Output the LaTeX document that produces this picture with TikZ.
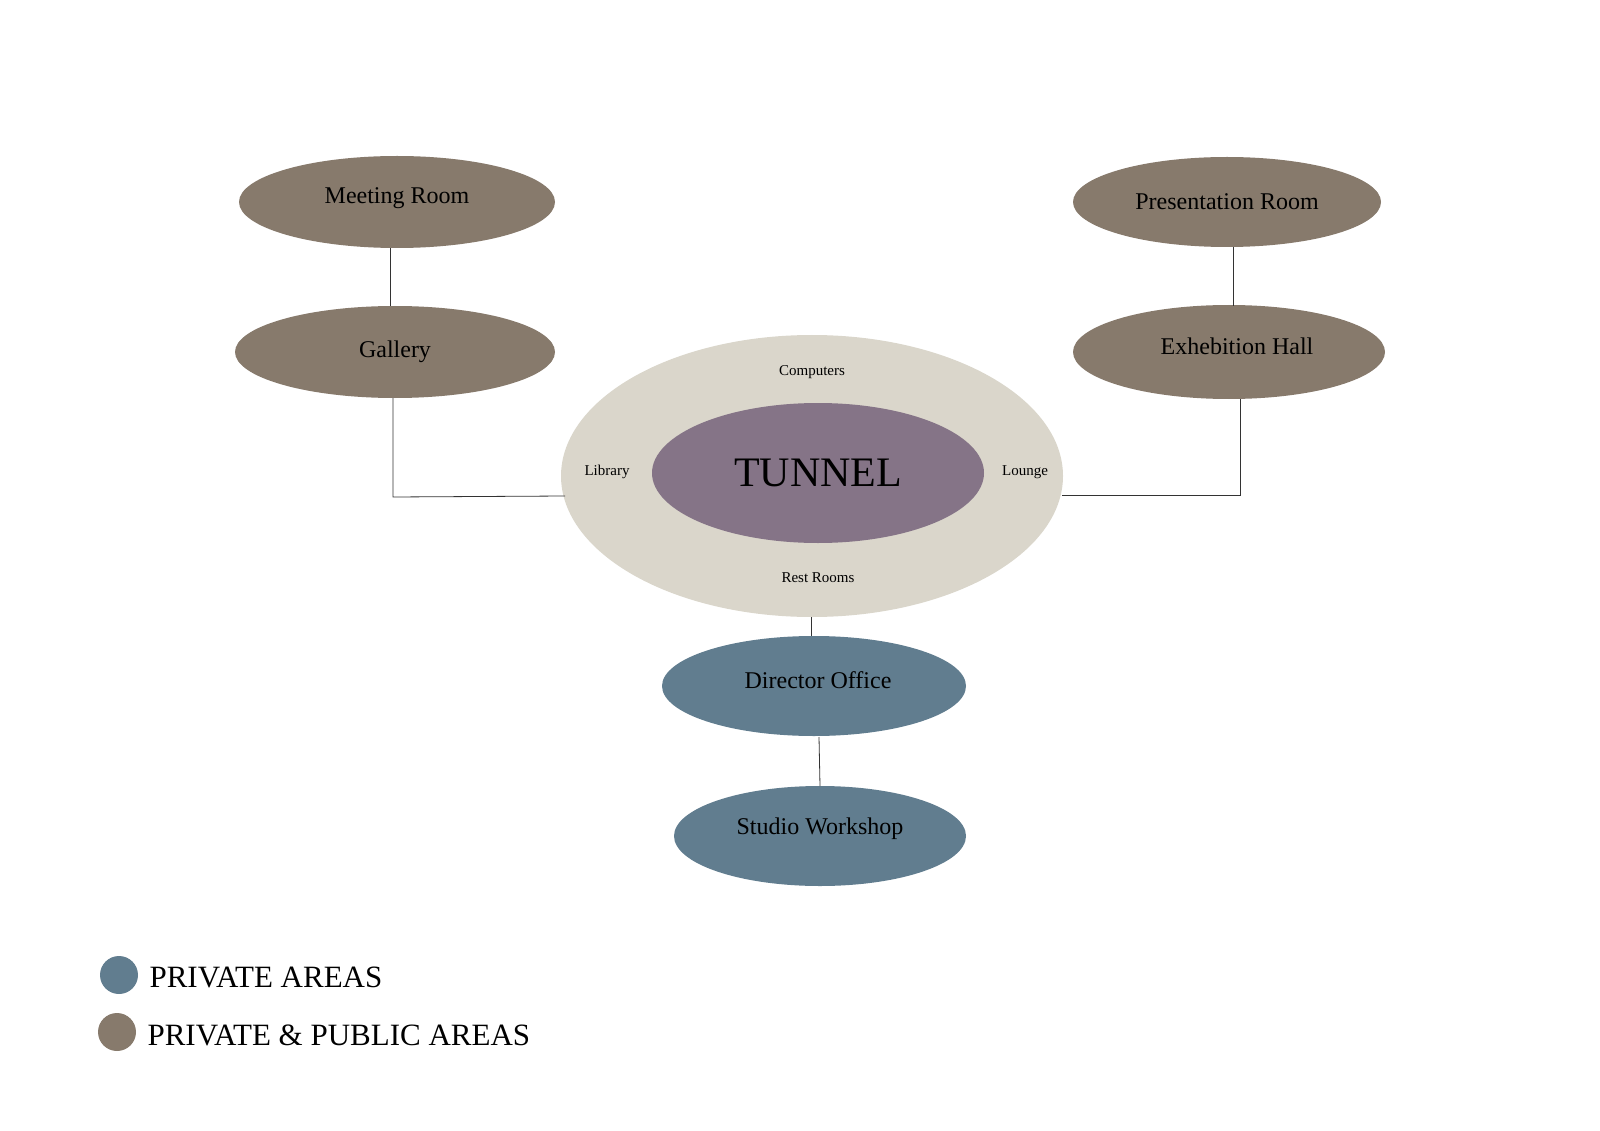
\documentclass[tikz,border=0pt]{standalone}
\usepackage{fontspec}
\setmainfont{Liberation Serif}
\usetikzlibrary{shapes.geometric}
\definecolor{brn}{HTML}{877A6C}
\definecolor{bge}{HTML}{DAD6CB}
\definecolor{prp}{HTML}{857487}
\definecolor{blu}{HTML}{617D8F}
\begin{document}
\begin{tikzpicture}[x=1pt,y=-1pt,
 room/.style={ellipse,draw=none,inner sep=0pt,font=\fontsize{24}{28}\selectfont},
 small/.style={font=\fontsize{15}{18}\selectfont},
 link/.style={draw=black!80,line width=0.8pt}]
\useasboundingbox (0,0) rectangle (1600,1131);
\node[room,fill=brn,minimum width=316,minimum height=92] (meet) at (397,202) {};
\node at (397,198) [font=\fontsize{24}{28}\selectfont] {Meeting Room};
\node[room,fill=brn,minimum width=320,minimum height=92] (gal) at (395,352) {Gallery};
\node[room,fill=brn,minimum width=308,minimum height=90] (pres) at (1227,202) {Presentation Room};
\node[room,fill=brn,minimum width=312,minimum height=94] (exh) at (1229,352) {};
\node at (1237,346) [font=\fontsize{24}{28}\selectfont] {Exhebition Hall};
\node[room,fill=bge,minimum width=502,minimum height=282] (outer) at (812,476) {};
\node[room,fill=prp,minimum width=332,minimum height=140,font=\fontsize{42}{46}\selectfont] (tun) at (818,473) {TUNNEL};
\node[small] (comp) at (812,372) {Computers};
\node[small] (lib) at (607,472) {Library};
\node[small] (lou) at (1025,472) {Lounge};
\node[small] (rest) at (818,578) {Rest Rooms};
\node[room,fill=blu,minimum width=304,minimum height=100] (dir) at (814,686) {};
\node at (818,680) [font=\fontsize{24}{28}\selectfont] {Director Office};
\node[room,fill=blu,minimum width=292,minimum height=100] (stu) at (820,836) {};
\node at (820,829) [font=\fontsize{24}{28}\selectfont] {Studio Workshop};
\coordinate (g1) at (393,497);
\coordinate (e1) at (1240,495);
\draw[link] (390,248) -- (390,306);
\draw[link] (393,398) -- (g1) -- (565,496);
\draw[link] (1233,247) -- (1233,306);
\draw[link] (1240,399) -- (e1) -- (1062,495);
\draw[link] (811,617) -- (811,636);
\draw[link] (819,737) -- (820,786);
\node[circle,fill=blu,minimum size=38,inner sep=0pt] (l1) at (119,975) {};
\node[circle,fill=brn,minimum size=38,inner sep=0pt] (l2) at (117,1032) {};
\node[anchor=west,font=\fontsize{31}{34}\selectfont] (t1) at (146,977) {PRIVATE AREAS};
\node[anchor=west,font=\fontsize{31}{34}\selectfont] (t2) at (144,1035) {PRIVATE \& PUBLIC AREAS};
\end{tikzpicture}
\end{document}
